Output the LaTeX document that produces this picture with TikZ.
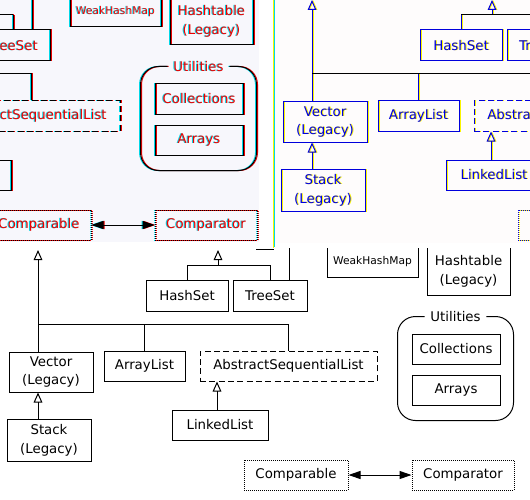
\documentclass[tikz,border=0pt]{standalone}
\usepackage{fontspec}
\setmainfont{DejaVu Sans}
\usetikzlibrary{arrows.meta,positioning}
\definecolor{lavbg}{RGB}{247,247,252}
\definecolor{pinkbg}{RGB}{254,252,252}
\definecolor{ghostcyan}{RGB}{0,215,230}
\definecolor{ghostred}{RGB}{235,0,0}
\definecolor{ghostyellow}{RGB}{250,245,0}
\definecolor{ghostblue}{RGB}{0,0,220}
\newcommand{\dfont}{\fontsize{10pt}{14pt}\selectfont}
\newcommand{\sfont}{\fontsize{8pt}{10pt}\selectfont}

\begin{document}
\begin{tikzpicture}[x=0.75pt, y=-0.75pt, line width=0.75pt,
    every node/.style={font=\dfont},
    box/.style 2 args={draw=\lc, text=\tc, text opacity=\to, minimum width=#1,
      minimum height=#2, inner sep=0pt, align=center},
    dashbox/.style={dash pattern=on 4.5pt off 2.5pt},
    dotbox/.style={dash pattern=on 0.75pt off 0.75pt},
    link/.style={draw=\lc},
    bar/.style={draw=\hc},
    inherit/.style={draw=\lc, -{Triangle[open,length=7.5pt,width=6.5pt]}},
    assoc/.style={draw=\lc, {Triangle[length=9pt,width=6pt]}-{Triangle[length=9pt,width=6pt]}}]
  \useasboundingbox (0,0) rectangle (530,499);
  \fill[white] (0,0) rectangle (530,499);

  % Panels
  \fill[lavbg] (0,0) rectangle (259,242);
  \fill[pinkbg] (274,0) rectangle (530,243);

  % Same diagram, three crops
  \foreach \dx/\dy/\lc/\tc/\to/\hc/\cx/\cy/\cX/\cY in {
      -258/-250/ghostcyan/ghostcyan/1/ghostcyan/0/0/259/242,
      -256/-250/ghostred/ghostred/0/ghostred/0/0/259/242,
      -257/-250/black/ghostred/1/black/0/0/259/242,
      275/-250/ghostyellow/ghostyellow/1/ghostyellow/274/0/530/243,
      274/-250/ghostblue/ghostblue/1/black/274/0/530/243,
      0/0/black/black/1/black/0/248/530/499} {
    \begin{scope}
      \clip (\cx,\cy) rectangle (\cX,\cY);
      \begin{scope}[shift={(\dx,\dy)}]
        % Sets
        \node[box={61.5pt}{23.25pt}] (hset) at (187,295.5) {HashSet};
        \node[box={55.5pt}{23.25pt}] (tset) at (270,295.5) {TreeSet};
        \coordinate (setbar) at (218,265);
        \coordinate (settip) at (218,250);
        \coordinate (sortedtop) at (289,238);
        \draw[inherit] (setbar) -- (settip);
        \draw[link] (hset.north) -- (hset.north |- setbar);
        \draw[bar] (hset.north |- setbar) -- (tset.north |- setbar);
        \draw[link] (tset.north |- setbar) -- (tset.north);
        \draw[link] (tset.north -| sortedtop) -- (sortedtop);

        % Lists
        \node[box={63pt}{30pt}] (vec) at (51,372) {Vector\\(Legacy)};
        \node[box={63pt}{31.5pt}] (stack) at (49,440) {Stack\\(Legacy)};
        \node[box={60.75pt}{22.5pt}] (alist) at (144.5,366) {ArrayList};
        \node[box={132.75pt}{22.5pt}, dashbox] (asl) at (288.5,366) {AbstractSequentialList};
        \node[box={72pt}{22.5pt}] (llist) at (220,425) {LinkedList};
        \coordinate (listbar) at (38,324);
        \coordinate (listtip) at (38,250);
        \draw[inherit] (listbar) -- (listtip);
        \draw[link] (vec.north -| listbar) -- (listbar);
        \draw[bar] (listbar) -- (listbar -| asl.north);
        \draw[link] (listbar -| asl.north) -- (asl.north);
        \draw[link] (alist.north) -- (alist.north |- listbar);
        \draw[inherit] (stack.north -| listbar) -- (vec.south -| listbar);
        \draw[inherit] (llist.north -| 217,0) -- (asl.south -| 217,0);

        % Maps
        \node[box={68.25pt}{22.5pt}, font=\sfont] (whmap) at (372.5,262) {WeakHashMap};
        \node[box={62.25pt}{36pt}] (htable) at (468.5,271) {Hashtable\\(Legacy)};

        % Utilities
        \node[box={86.25pt}{77.25pt}, draw=none] (util) at (455.5,368.5) {};
        \node[text=\tc, text opacity=\to, inner xsep=4pt, inner ysep=0pt] (utitle) at (util.north) {Utilities};
        \draw[link, rounded corners=13.5pt] (utitle.east) -- (util.north east)
          -- (util.south east) -- (util.south west) -- (util.north west) -- (utitle.west);
        \node[box={66pt}{22.5pt}] (colls) at (456,349) {Collections};
        \node[box={66pt}{22.5pt}] (arrs) at (456,390) {Arrays};

        % Ordering
        \node[box={78pt}{22.5pt}, dotbox] (cmpable) at (296,475) {Comparable};
        \node[box={76.5pt}{22.5pt}, dotbox] (cmpator) at (463,475) {Comparator};
        \draw[assoc] (cmpable) -- (cmpator);
      \end{scope}
    \end{scope}
  }

  % Panel edge
  \draw[ghostyellow] (273,0) -- (273,248);
  \draw[ghostcyan, line width=0.5pt] (274.2,0) -- (274.2,247);
  \draw (256,249) -- (274,249);
\end{tikzpicture}
\end{document}
